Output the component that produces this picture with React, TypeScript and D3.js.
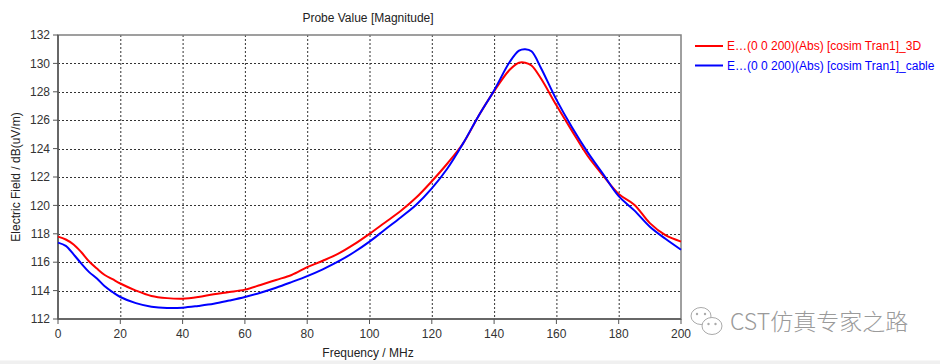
import React from "react";
import * as d3 from "d3";

const freqs = [0, 2.5, 5, 7.5, 10, 12.5, 15, 17.5, 20, 25, 30, 35, 40, 45, 50, 55, 60, 65, 70, 75, 80, 85, 90, 95, 100, 105, 110, 115, 120, 125, 130, 135, 140, 145, 148, 150, 152, 155, 160, 165, 170, 175, 180, 185, 190, 195, 200];
const red3D = [117.8, 117.6, 117.25, 116.7, 116.05, 115.55, 115.1, 114.8, 114.5, 114.0, 113.62, 113.47, 113.43, 113.55, 113.75, 113.9, 114.07, 114.4, 114.75, 115.1, 115.65, 116.1, 116.6, 117.25, 118.0, 118.8, 119.6, 120.55, 121.7, 122.95, 124.35, 126.3, 128.05, 129.55, 130.05, 130.05, 129.85, 128.95, 127.05, 125.25, 123.5, 122.1, 120.8, 120.05, 118.75, 117.9, 117.45];
const blueCable = [117.38, 117.15, 116.55, 115.9, 115.3, 114.85, 114.3, 113.9, 113.55, 113.12, 112.87, 112.78, 112.8, 112.92, 113.07, 113.3, 113.55, 113.85, 114.2, 114.6, 115.02, 115.5, 116.05, 116.7, 117.45, 118.3, 119.15, 120.05, 121.2, 122.6, 124.35, 126.3, 128.1, 130.1, 130.9, 131.0, 130.85, 129.7, 127.45, 125.5, 123.75, 122.2, 120.65, 119.65, 118.5, 117.65, 116.88];

const xTicks = [0, 20, 40, 60, 80, 100, 120, 140, 160, 180, 200];
const yTicks = [112, 114, 116, 118, 120, 122, 124, 126, 128, 130, 132];

const seriesNames = ["E\u2026(0 0 200)(Abs) [cosim Tran1]_3D", "E\u2026(0 0 200)(Abs) [cosim Tran1]_cable"];
const seriesColors = ["#ff0000", "#0000ff"];

const W = 940, H = 364;
const L = 58, R = 681, T = 35, B = 319;
const FONT = "'Liberation Sans', Arial, sans-serif";

export default function App() {
  const x = d3.scaleLinear().domain([0, 200]).range([L, R]);
  const y = d3.scaleLinear().domain([112, 132]).range([B, T]);
  const line = d3
    .line<number>()
    .x((_, i) => x(freqs[i]))
    .y((d) => y(d))
    .curve(d3.curveCatmullRom.alpha(0.5));
  const series = [red3D, blueCable];

  return (
    <svg width={W} height={H} style={{ position: "absolute", left: 0, top: 0, background: "#fff" }} fontFamily={FONT}>
      <rect x={0} y={0} width={W} height={H} fill="#fff" />
      <rect x={0} y={360.5} width={W} height={4} fill="#f0f0f0" />
      <text x={368} y={22} fontSize={12} textAnchor="middle" fill="#222">Probe Value [Magnitude]</text>

      {/* grid */}
      {xTicks.slice(1, -1).map((t) => (
        <line key={"gx" + t} x1={x(t) + 0.5} x2={x(t) + 0.5} y1={T} y2={B} stroke="#333" strokeWidth={1} strokeDasharray="2,2" />
      ))}
      {yTicks.slice(1, -1).map((t) => (
        <line key={"gy" + t} x1={L} x2={R} y1={Math.round(y(t)) + 0.5} y2={Math.round(y(t)) + 0.5} stroke="#333" strokeWidth={1} strokeDasharray="2,2" />
      ))}

      {/* frame */}
      <rect x={L} y={T} width={R - L} height={B - T} fill="none" stroke="#808080" strokeWidth={1.5} />
      <line x1={L} x2={L} y1={T} y2={B} stroke="#555" strokeWidth={1.5} />
      <line x1={L} x2={R} y1={B} y2={B} stroke="#555" strokeWidth={1.5} />

      {/* y ticks */}
      {yTicks.map((t) => (
        <g key={"yt" + t}>
          <line x1={L - 5} x2={L} y1={y(t)} y2={y(t)} stroke="#555" strokeWidth={1} />
          <text x={50} y={y(t)} dy="0.35em" fontSize={12} textAnchor="end" fill="#333">{t}</text>
        </g>
      ))}
      {/* x ticks */}
      {xTicks.map((t) => (
        <g key={"xt" + t}>
          <line x1={x(t)} x2={x(t)} y1={B} y2={B + 5} stroke="#555" strokeWidth={1} />
          <text x={x(t)} y={338} fontSize={12} textAnchor="middle" fill="#333">{t}</text>
        </g>
      ))}

      <text x={368} y={357} fontSize={12} textAnchor="middle" fill="#222">Frequency / MHz</text>
      <text transform="translate(16,177) rotate(-90)" fontSize={12} textAnchor="middle" dy="0.35em" fill="#222">Electric Field / dB(uV/m)</text>

      {/* curves */}
      {series.map((s, i) => (
        <path key={"s" + i} d={line(s) || ""} fill="none" stroke={seriesColors[i]} strokeWidth={2} />
      ))}

      {/* legend */}
      {seriesNames.map((n, i) => (
        <g key={"lg" + i}>
          <line x1={695} x2={723} y1={46 + i * 19.5} y2={46 + i * 19.5} stroke={seriesColors[i]} strokeWidth={2} />
          <text x={727} y={46 + i * 19.5} dy="0.35em" fontSize={12} fill={seriesColors[i]}>{n}</text>
        </g>
      ))}

      {/* watermark */}
      <g fill="none" stroke="#aaa" strokeWidth={1}>
        <ellipse cx={701} cy={316} rx={10} ry={8.5} fill="#fff" />
        <circle cx={697} cy={314} r={1.2} fill="#aaa" stroke="none" />
        <circle cx={705} cy={314} r={1.2} fill="#aaa" stroke="none" />
        <ellipse cx={712} cy={326} rx={10} ry={8.5} fill="#fff" />
        <circle cx={708.5} cy={324} r={1.2} fill="#aaa" stroke="none" />
        <circle cx={715.5} cy={324} r={1.2} fill="#aaa" stroke="none" />
      </g>
      <text x={730} y={322} dy="0.35em" fontSize={23} fill="#9a9a9a" fontFamily="'Noto Sans CJK SC', sans-serif" fontWeight={300}>CST仿真专家之路</text>
    </svg>
  );
}
